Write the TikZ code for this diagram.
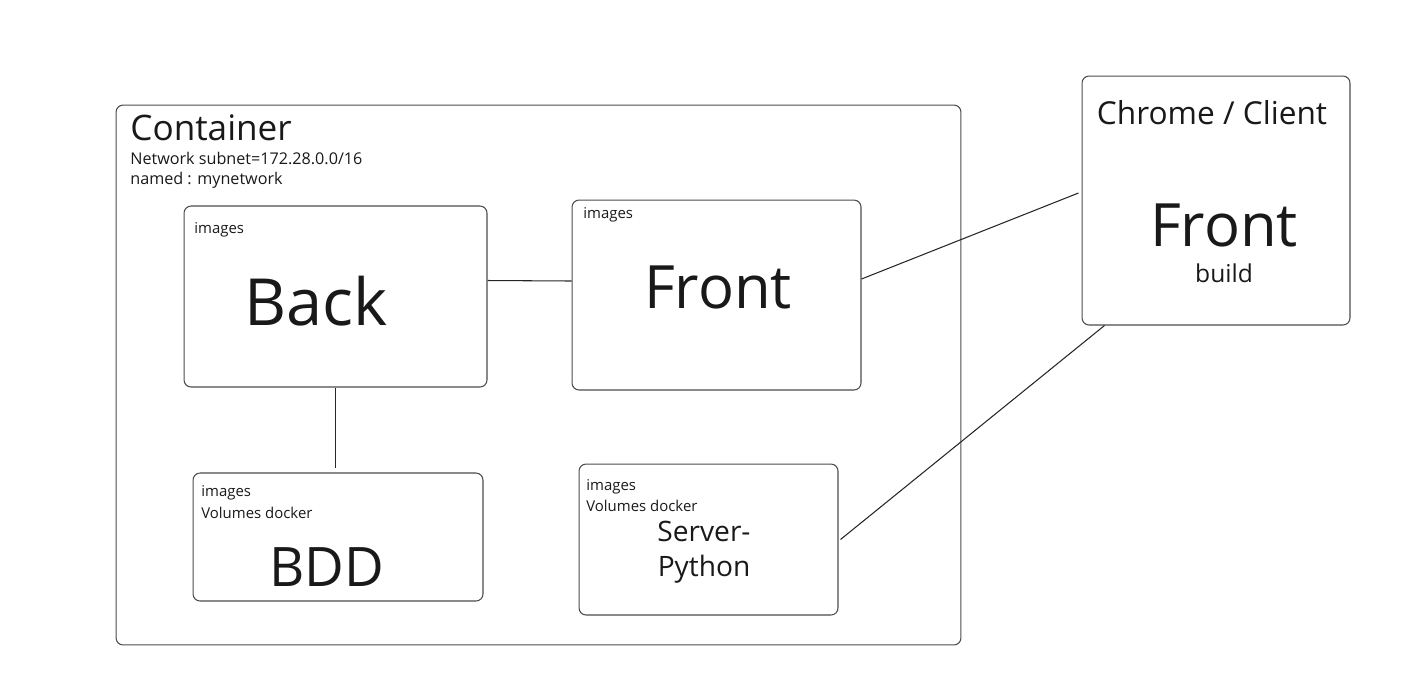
\documentclass[tikz,border=0pt]{standalone}
\usepackage{fontspec}
\setmainfont{Open Sans}
\usetikzlibrary{positioning,calc}

\begin{document}
\begin{tikzpicture}
		[x=0.02cm,y=-0.02cm,
		box/.style={draw=black!70,rounded corners=4pt,line width=0.6pt,inner sep=0pt},
		link/.style={-,black!85,line width=0.6pt},
		small/.style={anchor=base west,inner sep=0pt,font=\fontsize{8.5}{10}\selectfont,text=black!90},
		big/.style={inner sep=0pt,font=\fontsize{34}{38}\selectfont,text=black!90},
		title/.style={inner sep=0pt,font=\fontsize{18}{20}\selectfont,text=black!90}]
		
		\useasboundingbox (0,0) rectangle (1422,684);
		
		% boxes
		\node[box,minimum width=16.9cm,minimum height=10.8cm] (container) at (538.5,375) {};
		\node[box,minimum width=6.06cm,minimum height=3.62cm] (back) at (335.5,296.5) {};
		\node[box,minimum width=5.78cm,minimum height=3.8cm] (front) at (716.5,295) {};
		\node[box,minimum width=5.8cm,minimum height=2.56cm] (bdd) at (338,537) {};
		\node[box,minimum width=5.18cm,minimum height=3.02cm] (server) at (708.5,539.5) {};
		\node[box,minimum width=5.36cm,minimum height=4.98cm] (chrome) at (1216,200.5) {};
		
		% container texts
		\node[title,anchor=base west,font=\fontsize{20}{22}\selectfont] (ctitle) at (130,140) {Container};
		\node[small,font=\fontsize{9.2}{10}\selectfont] (subnet) at (130,164) {Network subnet=172.28.0.0/16};
		\node[small,font=\fontsize{9.2}{10}\selectfont] (netname) at (130,184) {named : mynetwork};
		
		% images labels
		\node[small] (backimg) at (194,233) {images};
		\node[small] (frontimg) at (583,218) {images};
		\node[small] (bddimg) at (201,496) {images};
		\node[small] (bddvol) at (201,518) {Volumes docker};
		\node[small] (srvimg) at (586,490) {images};
		\node[small] (srvvol) at (586,511) {Volumes docker};
		
		% names
		\node[big,font=\fontsize{37}{40}\selectfont] (backname) at (316,301) {Back};
		\node[big] (frontname) at (718,287) {Front};
		\node[big,font=\fontsize{31}{34}\selectfont] (bddname) at (327,567) {BDD};
		\node[title,align=center,font=\fontsize{16}{20}\selectfont] (srvname) at (704,552) {Server-\\Python};
		\node[title] (chrometitle) at (1212,113) {Chrome / Client};
		\node[big] (buildname) at (1224,225) {Front};
		\node[title,font=\fontsize{14}{16}\selectfont] (buildsub) at (1224,273) {build};
		
		% links
		\draw[link] ([yshift=0.32cm]back.east) -- ([yshift=0.28cm]front.west);
		\draw[link] (back.south) -- ([yshift=0.08cm]bdd.north -| back.south);
		\draw[link] ([yshift=0.32cm]front.east) -- ([yshift=0.15cm,xshift=-0.06cm]chrome.west);
		\draw[link] ([xshift=0.04cm]server.east) -- ([xshift=0.46cm]chrome.south west);
		
		\end{tikzpicture}
\end{document}
